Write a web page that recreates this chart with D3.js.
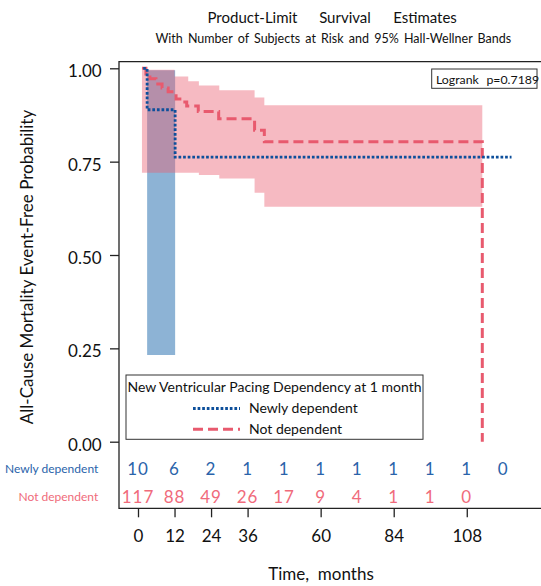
<!DOCTYPE html>
<html>
<head>
<meta charset="utf-8">
<script src="https://cdn.jsdelivr.net/npm/d3@7"></script>
<style>
  body { margin: 0; background: #fff; }
  svg { display: block; font-family: Lato, "Noto Sans", sans-serif; }
</style>
</head>
<body>
<svg id="chart" width="541" height="586"></svg>
<script>
// --- data ---
var groups = ["Newly dependent", "Not dependent"];

// Kaplan-Meier steps, newly dependent
var ndTime = [1.7, 3.0, 12.2, 122.7];
var ndSurv = [1.0, 0.889, 0.762, 0.762];

// Kaplan-Meier steps, not dependent
var notTime = [1.3, 2.6, 3.9, 5.9, 7.9, 9.9, 12.5, 14.6, 16.0, 19.8, 26.5, 38.3, 41.5, 113.1];
var notSurv = [1.0, 0.985, 0.972, 0.958, 0.947, 0.937, 0.918, 0.910, 0.899, 0.884, 0.865, 0.834, 0.803, 0.0];

// Hall-Wellner bands
var ndBandTime = [3.0, 12.2];
var ndBandLow = [0.232, 0.232];
var ndBandHigh = [0.995, 0.995];

var notBandTime = [1.3, 12.0, 16.5, 20.0, 26.7, 38.3, 41.5, 113.1];
var notBandLow = [0.720, 0.720, 0.720, 0.714, 0.705, 0.667, 0.629, 0.629];
var notBandHigh = [0.996, 0.978, 0.965, 0.954, 0.941, 0.922, 0.901, 0.901];

// number at risk
var riskTimes = [0, 12, 24, 36, 48, 60, 72, 84, 96, 108, 120];
var ndAtRisk = [10, 6, 2, 1, 1, 1, 1, 1, 1, 1, 0];
var notAtRisk = [117, 88, 49, 26, 17, 9, 4, 1, 1, 0];

var xTicks = [0, 12, 24, 36, 60, 84, 108];
var yTicks = [0, 0.25, 0.5, 0.75, 1.0];

var blue = "#0d4f9b", red = "#e85a6e";
var blueText = "#2a63aa", redText = "#f06b7b";

var svg = d3.select("#chart");
var frame = { left: 119, top: 61.7, bottom: 508.3, right: 560 };

var x = d3.scaleLinear().domain([0, 120]).range([138, 503.3]);
var y = d3.scaleLinear().domain([0, 1]).range([441.7, 68.3]);

function zip(t, a, b) {
  return t.map(function (d, i) { return { t: d, a: a[i], b: b ? b[i] : null }; });
}

// titles
var titleWords = [["Product-Limit", 252.5], ["Survival", 345], ["Estimates", 425]];
svg.selectAll(".title").data(titleWords).enter().append("text")
  .attr("class", "title")
  .attr("x", function (d) { return d[1]; })
  .attr("y", 23.3)
  .attr("text-anchor", "middle")
  .attr("font-size", 15)
  .attr("fill", "#111")
  .text(function (d) { return d[0]; });

svg.append("text")
  .attr("x", 333.3).attr("y", 42.5)
  .attr("text-anchor", "middle")
  .attr("font-size", 12.5)
  .attr("word-spacing", 2)
  .attr("fill", "#111")
  .text("With Number of Subjects at Risk and 95% Hall-Wellner Bands");

// bands
var band = d3.area().curve(d3.curveStepAfter)
  .x(function (d) { return x(d.t); })
  .y0(function (d) { return y(d.a); })
  .y1(function (d) { return y(d.b); });

svg.append("path")
  .attr("d", band(zip(ndBandTime, ndBandLow, ndBandHigh)))
  .attr("fill", "#8db3d5");

svg.append("path")
  .attr("d", band(zip(notBandTime, notBandLow, notBandHigh)))
  .attr("fill", "rgb(234,94,113)")
  .attr("fill-opacity", 0.43);

// survival curves
var step = d3.line().curve(d3.curveStepAfter)
  .x(function (d) { return x(d.t); })
  .y(function (d) { return y(d.a); });

svg.append("path")
  .attr("d", step(zip(notTime, notSurv)))
  .attr("fill", "none")
  .attr("stroke", red)
  .attr("stroke-width", 3)
  .attr("stroke-dasharray", "10,5");

svg.append("path")
  .attr("d", step(zip(ndTime, ndSurv)))
  .attr("fill", "none")
  .attr("stroke", blue)
  .attr("stroke-width", 2.8)
  .attr("stroke-dasharray", "2.7,1.9");

// frame
svg.append("path")
  .attr("d", "M" + frame.right + "," + frame.top + "H" + frame.left + "V" + frame.bottom + "H" + frame.right)
  .attr("fill", "none")
  .attr("stroke", "#222")
  .attr("stroke-width", 1.3);

// axes
var yAxis = svg.append("g")
  .attr("transform", "translate(" + frame.left + ",0)")
  .call(d3.axisLeft(y).tickValues(yTicks).tickSize(9).tickPadding(8.3).tickFormat(d3.format(".2f")));
yAxis.select(".domain").remove();
yAxis.selectAll("line").attr("stroke", "#222").attr("stroke-width", 1.3);
yAxis.selectAll("text").attr("font-size", 17).attr("font-family", "Lato").attr("fill", "#111").attr("dy", "0.5em");

var xAxis = svg.append("g")
  .attr("transform", "translate(0," + frame.bottom + ")")
  .call(d3.axisBottom(x).tickValues(xTicks).tickSize(9).tickPadding(12.3));
xAxis.select(".domain").remove();
xAxis.selectAll("line").attr("stroke", "#222").attr("stroke-width", 1.3);
xAxis.selectAll("text").attr("font-size", 17).attr("font-family", "Lato").attr("fill", "#111");

svg.append("text")
  .attr("x", 321).attr("y", 580)
  .attr("text-anchor", "middle")
  .attr("font-size", 17)
  .attr("fill", "#111")
  .style("white-space", "pre")
  .text("Time,  months");

svg.append("text")
  .attr("transform", "translate(33,267) rotate(-90)")
  .attr("text-anchor", "middle")
  .attr("font-size", 17)
  .attr("fill", "#111")
  .text("All-Cause Mortality Event-Free Probability");

// number at risk
var riskRows = [
  { name: groups[0], counts: ndAtRisk, color: blueText, base: 475, labelBase: 473.3 },
  { name: groups[1], counts: notAtRisk, color: redText, base: 502.7, labelBase: 501 }
];
riskRows.forEach(function (row) {
  svg.append("text")
    .attr("x", 98.3).attr("y", row.labelBase)
    .attr("text-anchor", "end")
    .attr("font-size", 12)
    .attr("fill", row.color)
    .text(row.name);
  svg.selectAll(null).data(row.counts).enter().append("text")
    .attr("x", function (d, i) { return x(riskTimes[i]); })
    .attr("y", row.base)
    .attr("text-anchor", "middle")
    .attr("font-size", 17)
    .attr("letter-spacing", 1)
    .attr("fill", row.color)
    .text(function (d) { return d; });
});

// legend
var lg = svg.append("g");
lg.append("rect")
  .attr("x", 126).attr("y", 375).attr("width", 297).attr("height", 64.3)
  .attr("fill", "#fff").attr("stroke", "#333").attr("stroke-width", 1);
lg.append("text")
  .attr("x", 274.5).attr("y", 391.7)
  .attr("text-anchor", "middle")
  .attr("font-size", 14)
  .attr("fill", "#111")
  .text("New Ventricular Pacing Dependency at 1 month");
var legendItems = [
  { name: groups[0], color: blue, dash: "2.7,1.9", width: 2.8, y: 408.5, base: 413.3 },
  { name: groups[1], color: red, dash: "10,5", width: 3, y: 429.3, base: 434 }
];
legendItems.forEach(function (d) {
  lg.append("line")
    .attr("x1", 193).attr("x2", 240).attr("y1", d.y).attr("y2", d.y)
    .attr("stroke", d.color).attr("stroke-width", d.width)
    .attr("stroke-dasharray", d.dash);
  lg.append("text")
    .attr("x", 249).attr("y", d.base)
    .attr("font-size", 14)
    .attr("fill", "#111")
    .text(d.name);
});

// logrank box
svg.append("rect")
  .attr("x", 431.7).attr("y", 69).attr("width", 105.3).attr("height", 19.3)
  .attr("fill", "#fff").attr("stroke", "#333").attr("stroke-width", 1);
svg.append("text")
  .attr("x", 436).attr("y", 84)
  .attr("font-size", 12.3)
  .attr("word-spacing", 4.5)
  .attr("fill", "#111")
  .text("Logrank p=0.7189");
</script>
</body>
</html>
